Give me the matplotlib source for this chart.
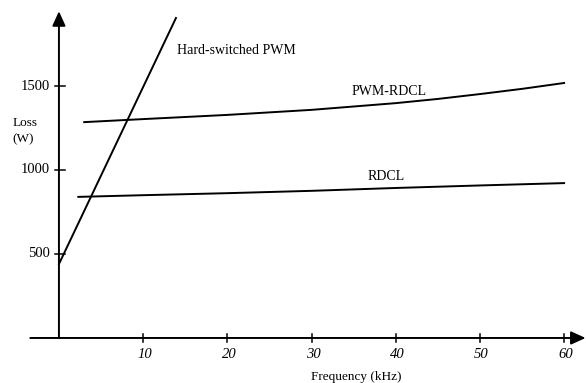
import matplotlib.pyplot as plt

# data
hard_f = [0, 13.9]
hard_loss = [440, 1905]

pwm_rdcl_f = [3, 10, 20, 30, 40, 45, 50, 55, 60]
pwm_rdcl_loss = [1285, 1303, 1328, 1358, 1398, 1423, 1452, 1483, 1518]

rdcl_f = [2.3, 10, 20, 30, 40, 50, 60]
rdcl_loss = [840, 850, 862, 876, 893, 908, 922]

x_ticks = [10, 20, 30, 40, 50, 60]
y_ticks = [500, 1000, 1500]

plt.rcParams['font.family'] = 'Liberation Serif'

fig = plt.figure(figsize=(5.86, 3.83), dpi=100)
ax = fig.add_axes([0, 0, 1, 1])
ax.set_xlim(-7.0, 62.6)
ax.set_ylim(-268, 2012)
ax.axis('off')

lw = 1.4
arrow = '-|>,head_length=0.55,head_width=0.25'
# axes with arrows
ax.annotate('', xy=(62.55, 0), xytext=(-3.4, 0), annotation_clip=False,
            arrowprops=dict(arrowstyle=arrow, color='black', lw=lw,
                            mutation_scale=16, shrinkA=0, shrinkB=0))
ax.annotate('', xy=(0, 1945), xytext=(0, 0), annotation_clip=False,
            arrowprops=dict(arrowstyle=arrow, color='black', lw=lw,
                            mutation_scale=16, shrinkA=0, shrinkB=0))

for t in x_ticks:
    ax.plot([t, t], [-25, 25], color='black', lw=1.1)
    ax.text(t + 0.2, -100, str(t), ha='center', va='center', fontsize=10.5, style='italic')
for t in y_ticks:
    ax.plot([-0.5, 0.7], [t, t], color='black', lw=1.1)
    ax.text(-1.1, t, str(t), ha='right', va='center', fontsize=10.5)

ax.plot(hard_f, hard_loss, color='black', lw=lw)
ax.plot(pwm_rdcl_f, pwm_rdcl_loss, color='black', lw=lw)
ax.plot(rdcl_f, rdcl_loss, color='black', lw=lw)

ax.text(14.0, 1710, 'Hard-switched PWM', ha='left', va='center', fontsize=10)
ax.text(34.8, 1465, 'PWM-RDCL', ha='left', va='center', fontsize=10)
ax.text(36.7, 960, 'RDCL', ha='left', va='center', fontsize=10)
ax.text(-5.5, 1280, 'Loss', ha='left', va='center', fontsize=9.5)
ax.text(-5.5, 1185, '(W)', ha='left', va='center', fontsize=9.5)
ax.text(35.3, -232, 'Frequency (kHz)', ha='center', va='center', fontsize=9.5)

fig.savefig('out.png', dpi=100)
